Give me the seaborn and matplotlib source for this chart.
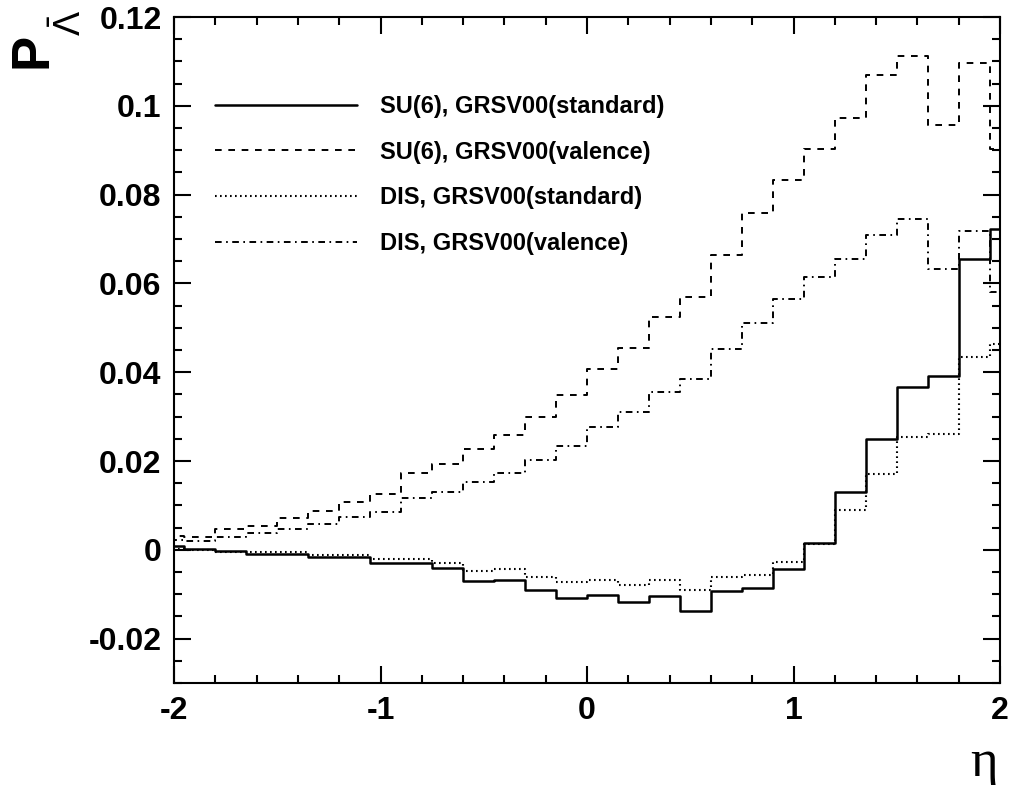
import matplotlib
matplotlib.use("Agg")
import matplotlib.pyplot as plt
from matplotlib.ticker import MultipleLocator
import numpy as np
import seaborn as sns

# 28 bins of width 0.15 from -2.1 to 2.1 (axis shows -2..2)
edges = np.round(np.arange(-2.1, 2.1001, 0.15), 3)

su6_standard = [0.00075, 0.00015, -0.0003, -0.0009, -0.0010, -0.0016, -0.0016, -0.0029,
                -0.0029, -0.0041, -0.0071, -0.0069, -0.0090, -0.0109, -0.0102, -0.0118,
                -0.0105, -0.0138, -0.0092, -0.0086, -0.0044, 0.0015, 0.0131, 0.0250,
                0.0366, 0.0391, 0.0654, 0.0722]
su6_valence = [0.0031, 0.0030, 0.0047, 0.0054, 0.0071, 0.0088, 0.0107, 0.0126,
               0.0174, 0.0193, 0.0227, 0.0259, 0.0300, 0.0349, 0.0407, 0.0455,
               0.0525, 0.0570, 0.0664, 0.0759, 0.0834, 0.0903, 0.0973, 0.1069,
               0.1112, 0.0957, 0.1097, 0.0903]
dis_standard = [0.0002, 0.0, -0.0005, -0.0006, -0.0006, -0.0011, -0.0011, -0.0020,
                -0.0020, -0.0029, -0.0047, -0.0044, -0.0061, -0.0072, -0.0068, -0.0080,
                -0.0068, -0.0091, -0.0061, -0.0056, -0.0027, 0.0013, 0.0089, 0.0170,
                0.0253, 0.0262, 0.0435, 0.0464]
dis_valence = [0.0022, 0.0020, 0.0030, 0.0037, 0.0047, 0.0058, 0.0073, 0.0086,
               0.0116, 0.0131, 0.0152, 0.0173, 0.0202, 0.0234, 0.0277, 0.0310,
               0.0356, 0.0384, 0.0452, 0.0512, 0.0564, 0.0614, 0.0655, 0.0710,
               0.0744, 0.0633, 0.0719, 0.0580]

labels = ["SU(6), GRSV00(standard)", "SU(6), GRSV00(valence)",
          "DIS, GRSV00(standard)", "DIS, GRSV00(valence)"]

xticks = [-2, -1, 0, 1, 2]
xtick_labels = ["-2", "-1", "0", "1", "2"]
yticks = [-0.02, 0.0, 0.02, 0.04, 0.06, 0.08, 0.1, 0.12]
ytick_labels = ["-0.02", "0", "0.02", "0.04", "0.06", "0.08", "0.1", "0.12"]

sns.set_theme(style="ticks")
plt.rcParams['font.family'] = ['Liberation Sans', 'DejaVu Sans']
plt.rcParams['axes.unicode_minus'] = False
plt.rcParams['lines.scale_dashes'] = False
plt.rcParams['mathtext.fontset'] = 'custom'
plt.rcParams['mathtext.rm'] = 'Liberation Sans'
plt.rcParams['mathtext.bf'] = 'Liberation Sans:bold'
for k in ['axes.edgecolor', 'xtick.color', 'ytick.color', 'text.color', 'axes.labelcolor']:
    plt.rcParams[k] = 'black'

fig = plt.figure(figsize=(10.16, 7.85), dpi=100)
ax = fig.add_axes([0.1713, 0.1299, 0.8130, 0.8484])

styles = [('-', 1.8), ((0, (4.8, 4.8)), 1.4), ((0, (1.2, 2.4)), 1.5), ((0, (4.8, 3.2, 1.2, 3.2)), 1.4)]
for vals, lab, (ls, lw) in zip([su6_standard, su6_valence, dis_standard, dis_valence], labels, styles):
    sns.lineplot(x=edges, y=list(vals) + [vals[-1]], drawstyle='steps-post', color='black',
                 linestyle=ls, linewidth=lw, label=lab, ax=ax, estimator=None, sort=False)

ax.set_xlim(-2, 2)
ax.set_ylim(-0.03, 0.12)
ax.set_xticks(xticks, xtick_labels)
ax.set_yticks(yticks, ytick_labels)
ax.xaxis.set_minor_locator(MultipleLocator(0.2))
ax.yaxis.set_minor_locator(MultipleLocator(0.005))
ax.tick_params(which='both', direction='in', top=True, right=True, width=1.5, labelsize=23)
ax.tick_params(which='major', length=12, pad=9)
ax.tick_params(which='minor', length=5.5)
for lab in ax.get_xticklabels() + ax.get_yticklabels():
    lab.set_fontweight('bold')
for sp in ax.spines.values():
    sp.set_linewidth(1.5)
    sp.set_visible(True)
ax.set_xlabel('')
ax.set_ylabel('')

ax.legend(loc='upper left', bbox_to_anchor=(0.0496, 0.883), frameon=False,
          prop={'size': 17, 'weight': 'bold'}, handlelength=6.0, handletextpad=1.0,
          labelspacing=0.96, borderpad=0, borderaxespad=0)

# y title: bold P with anti-Lambda subscript, rotated like ROOT
fig.text(8 / 1016, 1 - 68 / 785, 'P', rotation=90, ha='left', va='bottom',
         fontsize=38, fontweight='bold')
fig.text(52 / 1016, 1 - 10 / 785, r'$\bar{\Lambda}$', rotation=90, ha='left', va='top',
         fontsize=26)
fig.text(984 / 1016, 1 - 763 / 785, 'η', fontsize=38, family='Liberation Serif',
         ha='center', va='center')

fig.savefig('out.png', dpi=100)
